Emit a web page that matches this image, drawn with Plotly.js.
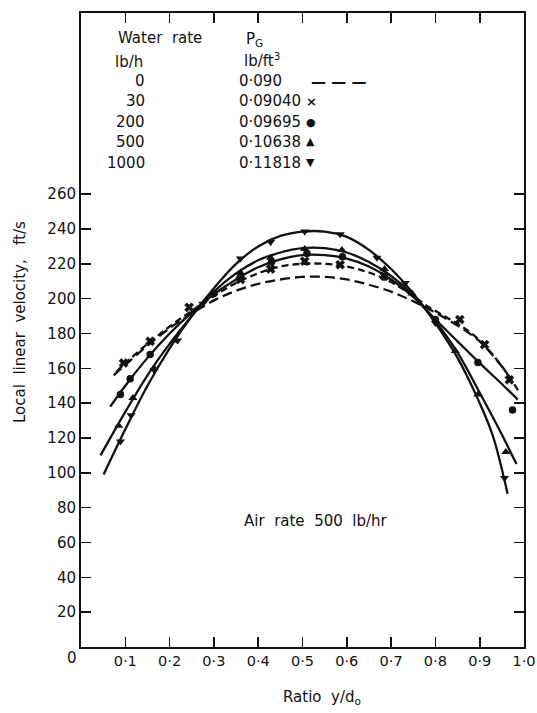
<!DOCTYPE html>
<html>
<head>
<meta charset="utf-8">
<script src="https://cdn.plot.ly/plotly-3.0.1.min.js"></script>
<style>html,body{margin:0;padding:0;background:#fff;}#chart{width:537px;height:713px;}</style>
</head>
<body>
<div id="chart"></div>
<script>
// ---- tick labels ----
const xTickVals = [0.1,0.2,0.3,0.4,0.5,0.6,0.7,0.8,0.9,1.0];
const xTickText = ['0·1','0·2','0·3','0·4','0·5','0·6','0·7','0·8','0·9','1·0'];
const yTickVals = [20,40,60,80,100,120,140,160,180,200,220,240,260];

// ---- legend table ----
const waterRates = ['0','30','200','500','1000'];
const gasDensities = ['0·090','0·09040','0·09695','0·10638','0·11818'];
const legendSymbols = ['— — —','×','●','▲','▼'];

// ---- fitted curves ----
const fitX_0 = [0.074,0.1,0.15,0.2,0.25,0.3,0.35,0.4,0.45,0.5,0.55,0.6,0.65,0.7,0.75,0.8,0.85,0.9,0.95,0.97];
const fitY_0 = [156,162,173,183,191.5,199,204.5,208.5,211,212.5,212.5,211,208,204,198.5,192,184.5,175.5,161,154];

const fitX_30 = [0.08,0.1,0.15,0.2,0.25,0.3,0.35,0.4,0.45,0.5,0.55,0.6,0.65,0.7,0.75,0.78,0.82,0.86,0.9,0.94,0.97,0.99];
const fitY_30 = [158,163,174,184,193,201.5,209,214.5,218.5,220,220,218.5,215,209.5,201.5,196,190,184,176,164.5,154,146];

const fitX_200 = [0.066,0.1,0.15,0.2,0.25,0.3,0.35,0.4,0.45,0.5,0.55,0.6,0.65,0.7,0.75,0.8,0.85,0.9,0.95,0.986];
const fitY_200 = [138,150,166,180,192,202.5,211,218,222.5,225,225,223,218.5,211,201,188,175.5,163,151,142];

const fitX_500 = [0.044,0.1,0.15,0.2,0.25,0.3,0.35,0.4,0.45,0.5,0.55,0.6,0.65,0.7,0.75,0.8,0.85,0.9,0.95,0.983];
const fitY_500 = [110,135,156,174,190,204,214.5,222,226.5,229,229,226.5,221,213,202,187,169,146,122,105];

const fitX_1000 = [0.051,0.1,0.15,0.2,0.25,0.3,0.35,0.4,0.45,0.5,0.55,0.6,0.65,0.7,0.75,0.8,0.85,0.9,0.93,0.963];
const fitY_1000 = [99,125,150,171.5,190,206,220,230,236,238.5,238.5,235.5,228,217,203,186,166,140,121,88];

// ---- measured points ----
const ptX_30 = [0.096,0.156,0.244,0.36,0.428,0.505,0.585,0.685,0.855,0.911,0.967];
const ptY_30 = [163,175.5,195,211,217,221.5,219.5,213,188,173.6,153.4];

const ptX_200 = [0.089,0.111,0.156,0.3,0.36,0.43,0.51,0.59,0.685,0.8,0.896,0.974];
const ptY_200 = [145,154,168,203,212.5,221,226,224,212.5,188,163.4,136];

const ptX_500 = [0.085,0.117,0.165,0.21,0.36,0.428,0.505,0.589,0.685,0.747,0.845,0.896,0.959];
const ptY_500 = [127,143,160,176,215,223.5,228.5,228,217,203,170,145,112];

const ptX_1000 = [0.089,0.113,0.165,0.218,0.275,0.36,0.428,0.505,0.585,0.668,0.732,0.80,0.956];
const ptY_1000 = [118,133,159,176,197,223,232.5,238.5,237,223.5,209,186,97];

// ---- drawing ----
const INK = '#111';
const FONT = 'DejaVu Sans, Liberation Sans, sans-serif';
const W = 537, H = 713, ML = 81, MR = 13, MT = 13, MB = 66;
const PW = W - ML - MR, PH = H - MT - MB;
function P(px, py){ return {x:(px-ML)/PW, y:(H-MB-py)/PH}; }

function curve(x, y, dash){
  return {x:x, y:y, type:'scatter', mode:'lines', hoverinfo:'skip',
    line:{color:INK, width:2.3, shape:'spline', smoothing:1, dash:dash||'solid'}};
}
function pts(x, y, sym, size){
  return {x:x, y:y, type:'scatter', mode:'markers', hoverinfo:'skip',
    marker:{symbol:sym, size:size, color:INK, line:{color:INK, width:sym==='x'?0.6:0}}};
}

const traces = [
  curve(fitX_0, fitY_0, '10px,5px'),
  curve(fitX_30, fitY_30, '7px,4px'),
  curve(fitX_200, fitY_200),
  curve(fitX_500, fitY_500),
  curve(fitX_1000, fitY_1000),
  pts(ptX_30, ptY_30, 'x', 8),
  pts(ptX_200, ptY_200, 'circle', 7.5),
  pts(ptX_500, ptY_500, 'triangle-up', 8),
  pts(ptX_1000, ptY_1000, 'triangle-down', 8)
];

function ann(text, px, py, xa, opts){
  const p = P(px, py);
  return Object.assign({text:text, xref:'paper', yref:'paper', x:p.x, y:p.y,
    xanchor:xa||'left', yanchor:'middle', showarrow:false,
    font:{family:FONT, size:15, color:INK}}, opts||{});
}

const annotations = [
  ann('Water\u00a0 rate', 116, 38),
  ann('lb/h', 113, 62),
  ann('P<sub>G</sub>', 244, 40),
  ann('lb/ft<sup>3</sup>', 242, 60),
  ann('Air\u00a0 rate\u00a0 500\u00a0 lb/hr', 316, 521, 'center'),
  ann('Ratio\u00a0 y/d<sub>o</sub>', 322, 697, 'center'),
  ann('Local\u00a0 linear\u00a0 velocity,\u00a0\u00a0 ft/s', 20, 322, 'center', {textangle:-90}),
  ann('0', 72, 658, 'center')
];
const rowY = [81, 101, 122, 142, 163];
for (let i = 0; i < waterRates.length; i++){
  annotations.push(ann(waterRates[i], 147, rowY[i], 'right'));
  annotations.push(ann(gasDensities[i], 237, rowY[i], 'left'));
  if (i === 0) annotations.push(ann('<b>' + legendSymbols[i] + '</b>', 309, rowY[i]+1, 'left', {font:{family:FONT, size:15, color:INK}}));
  else annotations.push(ann('<b>' + legendSymbols[i] + '</b>', 304, rowY[i], 'left', {font:{family:FONT, size:i===1?13:11, color:INK}}));
}

const axisCommon = {
  showline:true, linewidth:2, linecolor:INK, mirror:'ticks',
  ticks:'inside', ticklen:10, tickwidth:1.6, tickcolor:INK,
  showgrid:false, zeroline:false, fixedrange:true,
  tickfont:{family:FONT, size:15, color:INK}
};

const layout = {
  width:W, height:H,
  margin:{l:ML, r:MR, t:MT, b:MB, pad:0},
  paper_bgcolor:'#fff', plot_bgcolor:'#fff',
  showlegend:false,
  xaxis:Object.assign({}, axisCommon, {range:[0,1], tickmode:'array', tickvals:xTickVals, ticktext:xTickText,
    tickfont:{family:FONT, size:14.5, color:INK}}),
  yaxis:Object.assign({}, axisCommon, {range:[0,364], tickmode:'array', tickvals:yTickVals}),
  annotations:annotations
};

Plotly.newPlot('chart', traces, layout, {staticPlot:true, displayModeBar:false});
</script>
</body>
</html>
